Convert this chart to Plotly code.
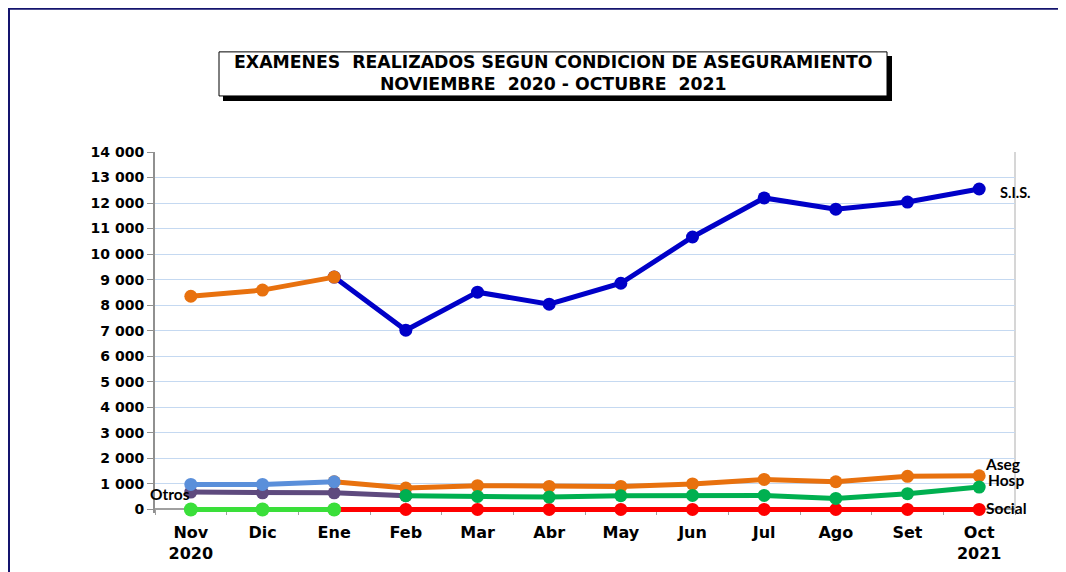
import plotly.graph_objects as go

months = ["Nov<br>2020", "Dic", "Ene", "Feb", "Mar", "Abr", "May", "Jun", "Jul", "Ago", "Set", "Oct<br>2021"]

# top series: first months (orange) then S.I.S. (blue)
top_early = [8350, 8590, 9100, None, None, None, None, None, None, None, None, None]
sis = [None, None, 9100, 7020, 8510, 8040, 8860, 10670, 12200, 11760, 12040, 12550]
# Aseg series: first months (light blue) then orange
aseg_early = [980, 980, 1085, None, None, None, None, None, None, None, None, None]
aseg = [None, None, 1085, 835, 930, 900, 900, 1000, 1175, 1085, 1295, 1320]
# Otros (purple) then Hosp (green)
otros = [680, 650, 650, 535, None, None, None, None, None, None, None, None]
hosp = [None, None, None, 535, 510, 485, 535, 550, 550, 430, 615, 875]
# Social: light green then red
social_early = [0, 0, 0, None, None, None, None, None, None, None, None, None]
social = [None, None, 0, 0, 0, 0, 0, 0, 0, 0, 0, 0]

yticks = list(range(0, 14001, 1000))

# page has an 8px body margin: figure is drawn from screen (8, 8)
OFF = 8
W, H = 1066 - OFF, 572 - OFF
PLOT_L, PLOT_R, PLOT_T, PLOT_B = 155, 1015, 152, 512.6   # screen px
L = PLOT_L - OFF
R = W - (PLOT_R - OFF)
T = PLOT_T - OFF
B = H - (PLOT_B - OFF)
PW, PH = PLOT_R - PLOT_L, PLOT_B - PLOT_T


def px(x):
    return (x - PLOT_L) / PW


def py(y):
    return (PLOT_B - y) / PH


fig = go.Figure()


def add(vals, color, size=13, width=5):
    fig.add_trace(go.Scatter(
        x=months, y=vals, mode="lines+markers",
        line=dict(color=color, width=width),
        marker=dict(color=color, size=size),
        cliponaxis=False,
        connectgaps=False, showlegend=False, hoverinfo="y"))


add(sis, "#0000C8")
add(aseg, "#E8710E")
add(social, "#FF0000")
add(otros, "#5E4A7E")
add(hosp, "#00B050")
add(top_early, "#E8710E")
add(aseg_early, "#5A8FDA")
add(social_early, "#3ADF3A", size=14)

lab_font = dict(family="Lato", size=15.5, color="#000000", weight="bold")
anns = [
    dict(x=months[11], y=sis[11], text="S.I.S.", xshift=19, yshift=-3, size=14.5),
    dict(x=months[11], y=aseg[11], text="Aseg", xshift=4, yshift=12, size=15.5),
    dict(x=months[11], y=hosp[11], text="Hosp", xshift=7, yshift=7, size=15.5),
    dict(x=months[11], y=social[11], text="Social", xshift=5, yshift=1, size=15.5),
    dict(x=months[0], y=otros[0], text="Otros", xshift=-43, yshift=-2, size=15.5),
]
for a in anns:
    f = dict(lab_font)
    f["size"] = a.pop("size")
    fig.add_annotation(xref="x", yref="y", showarrow=False, xanchor="left",
                       yanchor="middle", font=f, **a)

# title box with shadow
fig.add_shape(type="rect", xref="paper", yref="paper",
              x0=px(223), x1=px(892), y0=py(101), y1=py(56),
              fillcolor="#000000", line=dict(width=0), layer="above")
fig.add_shape(type="rect", xref="paper", yref="paper",
              x0=px(219), x1=px(887), y0=py(96), y1=py(52),
              fillcolor="#FFFFFF", line=dict(color="#000000", width=1), layer="above")
fig.add_annotation(xref="paper", yref="paper", x=px(553), y=py(73.5),
                   text="EXAMENES  REALIZADOS SEGUN CONDICION DE ASEGURAMIENTO<br>NOVIEMBRE  2020 - OCTUBRE  2021",
                   showarrow=False, xanchor="center", yanchor="middle",
                   font=dict(family="DejaVu Sans", size=17.3, color="#000000", weight="bold"))

# outer frame
fig.add_shape(type="rect", xref="paper", yref="paper",
              x0=px(9), x1=px(1080), y0=py(590), y1=py(9),
              line=dict(color="#14146E", width=2), fillcolor="rgba(0,0,0,0)", layer="below")
# right plot border
fig.add_shape(type="line", xref="paper", yref="paper",
              x0=1, x1=1, y0=0, y1=1,
              line=dict(color="#C8C8C8", width=1.5), layer="below")

fig.update_layout(
    width=W, height=H,
    margin=dict(l=L, r=R, t=T, b=B, autoexpand=False),
    paper_bgcolor="#FFFFFF", plot_bgcolor="#FFFFFF",
    separators=", ",
    showlegend=False,
)
fig.update_xaxes(
    type="category", range=[-0.5, 11.5], automargin=False,
    anchor="free", position=(PLOT_B - 509) / PH,
    showline=True, linecolor="#A0A0A0", linewidth=1.5, layer="below traces",
    ticks="outside", tickson="boundaries", ticklen=5, tickcolor="#A0A0A0",
    ticklabelstandoff=9,
    showgrid=False, zeroline=False,
    tickfont=dict(family="DejaVu Sans", size=16, color="#000000", weight="bold"),
)
fig.update_yaxes(
    range=[-140, 14000], tickvals=yticks, tickformat=",d", automargin=False,
    showline=True, linecolor="#909090", linewidth=2, layer="below traces",
    ticks="outside", ticklen=6, tickcolor="#909090",
    showgrid=True, gridcolor="#C5D9F1", gridwidth=1,
    zeroline=False,
    tickfont=dict(family="DejaVu Sans", size=14, color="#000000", weight="bold"),
)

fig.write_html("out.html")
